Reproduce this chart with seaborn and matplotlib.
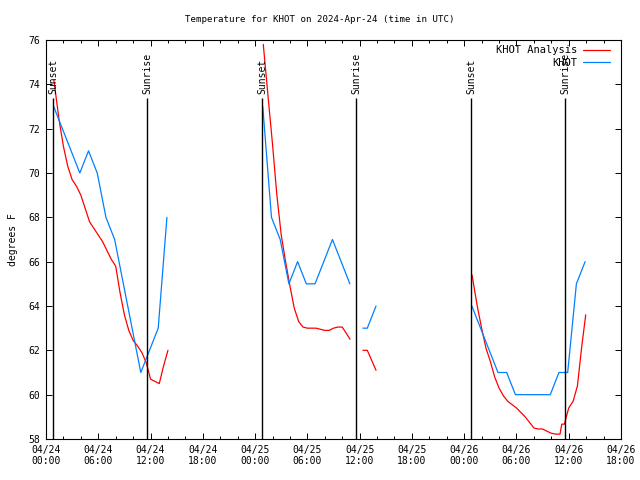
import pandas as pd
import seaborn as sns
import matplotlib
matplotlib.use('Agg')
import matplotlib.pyplot as plt
import matplotlib.dates as mdates
from matplotlib.lines import Line2D

# times are hours after 2024-04-24 00:00 UTC
obs_hours_1 = [0.88, 1.88, 2.88, 3.88, 4.88, 5.88, 6.88, 7.88, 8.88, 9.88, 10.88, 11.88, 12.88, 13.88]
obs_temp_1 = [73, 72, 71, 70, 71, 70, 68, 67, 65, 63, 61, 62, 63, 68]
obs_hours_2 = [24.88, 25.88, 26.88, 27.88, 28.88, 29.88, 30.88, 31.88, 32.88, 33.88, 34.88]
obs_temp_2 = [73, 68, 67, 65, 66, 65, 65, 66, 67, 66, 65]
obs_hours_3 = [36.38, 36.88, 37.88]
obs_temp_3 = [63, 63, 64]
obs_hours_4 = [48.88, 49.88, 50.88, 51.88, 52.88, 53.88, 54.88, 55.88, 56.88, 57.88, 58.88, 59.88, 60.88, 61.88]
obs_temp_4 = [64, 63, 62, 61, 61, 60, 60, 60, 60, 60, 61, 61, 65, 66]

ana_hours_1 = [0.9, 1.5, 2.0, 2.5, 3.0, 3.5, 4.0, 4.5, 5.0, 5.5, 6.0, 6.5, 7.0, 7.5,
               8.0, 8.5, 9.0, 9.5, 10.0, 10.5, 11.0, 11.5, 12.0, 12.5, 13.0, 13.5, 14.0]
ana_temp_1 = [74.2, 72.4, 71.2, 70.3, 69.7, 69.4, 69.0, 68.4, 67.8, 67.5, 67.2, 66.9, 66.5, 66.1,
              65.8, 64.6, 63.6, 62.9, 62.45, 62.2, 61.9, 61.45, 60.7, 60.6, 60.5, 61.3, 62.0]
ana_hours_2 = [24.94, 25.5, 26.0, 26.5, 27.0, 27.5, 28.0, 28.5, 29.0, 29.5, 30.0,
               30.5, 31.0, 31.5, 32.0, 32.5, 33.0, 33.5, 34.0, 34.5, 34.9]
ana_temp_2 = [75.8, 73.4, 71.3, 69.0, 67.2, 66.0, 64.9, 63.9, 63.3, 63.05, 63.0,
              63.0, 63.0, 62.95, 62.9, 62.9, 63.0, 63.05, 63.05, 62.75, 62.5]
ana_hours_3 = [36.38, 36.88, 37.88]
ana_temp_3 = [62.0, 62.0, 61.1]
ana_hours_4 = [48.9, 49.5, 50.0, 50.5, 51.0, 51.5, 52.0, 52.5, 53.0, 53.5, 54.0, 54.5, 55.0, 55.5,
               56.0, 56.5, 57.0, 57.5, 58.0, 58.5, 59.0, 59.2, 59.5, 60.0, 60.5, 61.0, 61.5, 61.95]
ana_temp_4 = [65.4, 64.0, 63.0, 62.1, 61.5, 60.8, 60.3, 59.95, 59.7, 59.55, 59.4, 59.2, 59.0, 58.75,
              58.5, 58.45, 58.45, 58.35, 58.26, 58.22, 58.22, 58.67, 58.67, 59.4, 59.7, 60.4, 62.2, 63.6]

sunset_hours = [0.84, 24.79, 48.82]
sunrise_hours = [11.63, 35.62, 59.61]

base = pd.Timestamp('2024-04-24 00:00')


def to_time(h):
    return base + pd.to_timedelta(h, unit='h')


# long table, one unit per unbroken piece of line
parts = []
pieces = [('KHOT Analysis', ana_hours_1, ana_temp_1), ('KHOT Analysis', ana_hours_2, ana_temp_2),
          ('KHOT Analysis', ana_hours_3, ana_temp_3), ('KHOT Analysis', ana_hours_4, ana_temp_4),
          ('KHOT', obs_hours_1, obs_temp_1), ('KHOT', obs_hours_2, obs_temp_2),
          ('KHOT', obs_hours_3, obs_temp_3), ('KHOT', obs_hours_4, obs_temp_4)]
for i, (name, hrs, tmp) in enumerate(pieces):
    parts.append(pd.DataFrame({'time': [to_time(h) for h in hrs], 'temp': tmp,
                               'series': name, 'segment': i}))
df = pd.concat(parts, ignore_index=True)

sns.set_style('white', rc={'axes.edgecolor': 'black', 'text.color': 'black',
                           'axes.labelcolor': 'black', 'xtick.color': 'black',
                           'ytick.color': 'black'})
plt.rcParams['font.family'] = ['DejaVu Sans Mono']
plt.rcParams['font.size'] = 7

colors = {'KHOT Analysis': '#ff0000', 'KHOT': '#0080ff'}

fig = plt.figure(figsize=(6.4, 4.8), dpi=100)
ax = fig.add_axes([46 / 640, 41 / 480, 575 / 640, 399 / 480])

sns.lineplot(data=df, x='time', y='temp', hue='series', units='segment', estimator=None,
             palette=colors, linewidth=0.9, sort=False, legend=False, ax=ax)

for h in sunset_hours:
    ax.vlines(to_time(h), 58, 73.4, color='black', linewidth=1.0)
    ax.text(to_time(h), 73.55, 'Sunset', rotation=90, ha='center', va='bottom')
for h in sunrise_hours:
    ax.vlines(to_time(h), 58, 73.4, color='black', linewidth=1.0)
    ax.text(to_time(h), 73.55, 'Sunrise', rotation=90, ha='center', va='bottom')

ax.set_xlim(base, to_time(66))
ax.set_ylim(58, 76)
ax.set_yticks(range(58, 77, 2))
ax.xaxis.set_major_locator(mdates.HourLocator(byhour=[0, 6, 12, 18]))
ax.xaxis.set_minor_locator(mdates.HourLocator(byhour=range(0, 24, 2)))
ax.xaxis.set_major_formatter(mdates.DateFormatter('%m/%d\n%H:%M'))
ax.tick_params(which='both', direction='in', top=True, right=True, bottom=True, left=True,
               width=0.7, labelsize=7, pad=4)
ax.tick_params(which='major', length=4)
ax.tick_params(which='minor', length=2.2)
for s in ax.spines.values():
    s.set_linewidth(0.8)

ax.set_xlabel('')
ax.set_ylabel('degrees F', fontsize=7, labelpad=8)

fig.text(0.5, 1 - 19 / 480, 'Temperature for KHOT on 2024-Apr-24 (time in UTC)',
         ha='center', va='center', fontsize=6.6)

handles = [Line2D([], [], color=colors['KHOT Analysis'], linewidth=0.9),
           Line2D([], [], color=colors['KHOT'], linewidth=0.9)]
ax.legend(handles, ['KHOT Analysis', 'KHOT'], loc='upper right', markerfirst=False,
          frameon=False, fontsize=7.5, handlelength=2.6, handletextpad=0.6,
          labelspacing=0.25, borderaxespad=0, borderpad=0.2,
          bbox_to_anchor=(0.985, 0.992))

fig.savefig('out.png', dpi=100)
